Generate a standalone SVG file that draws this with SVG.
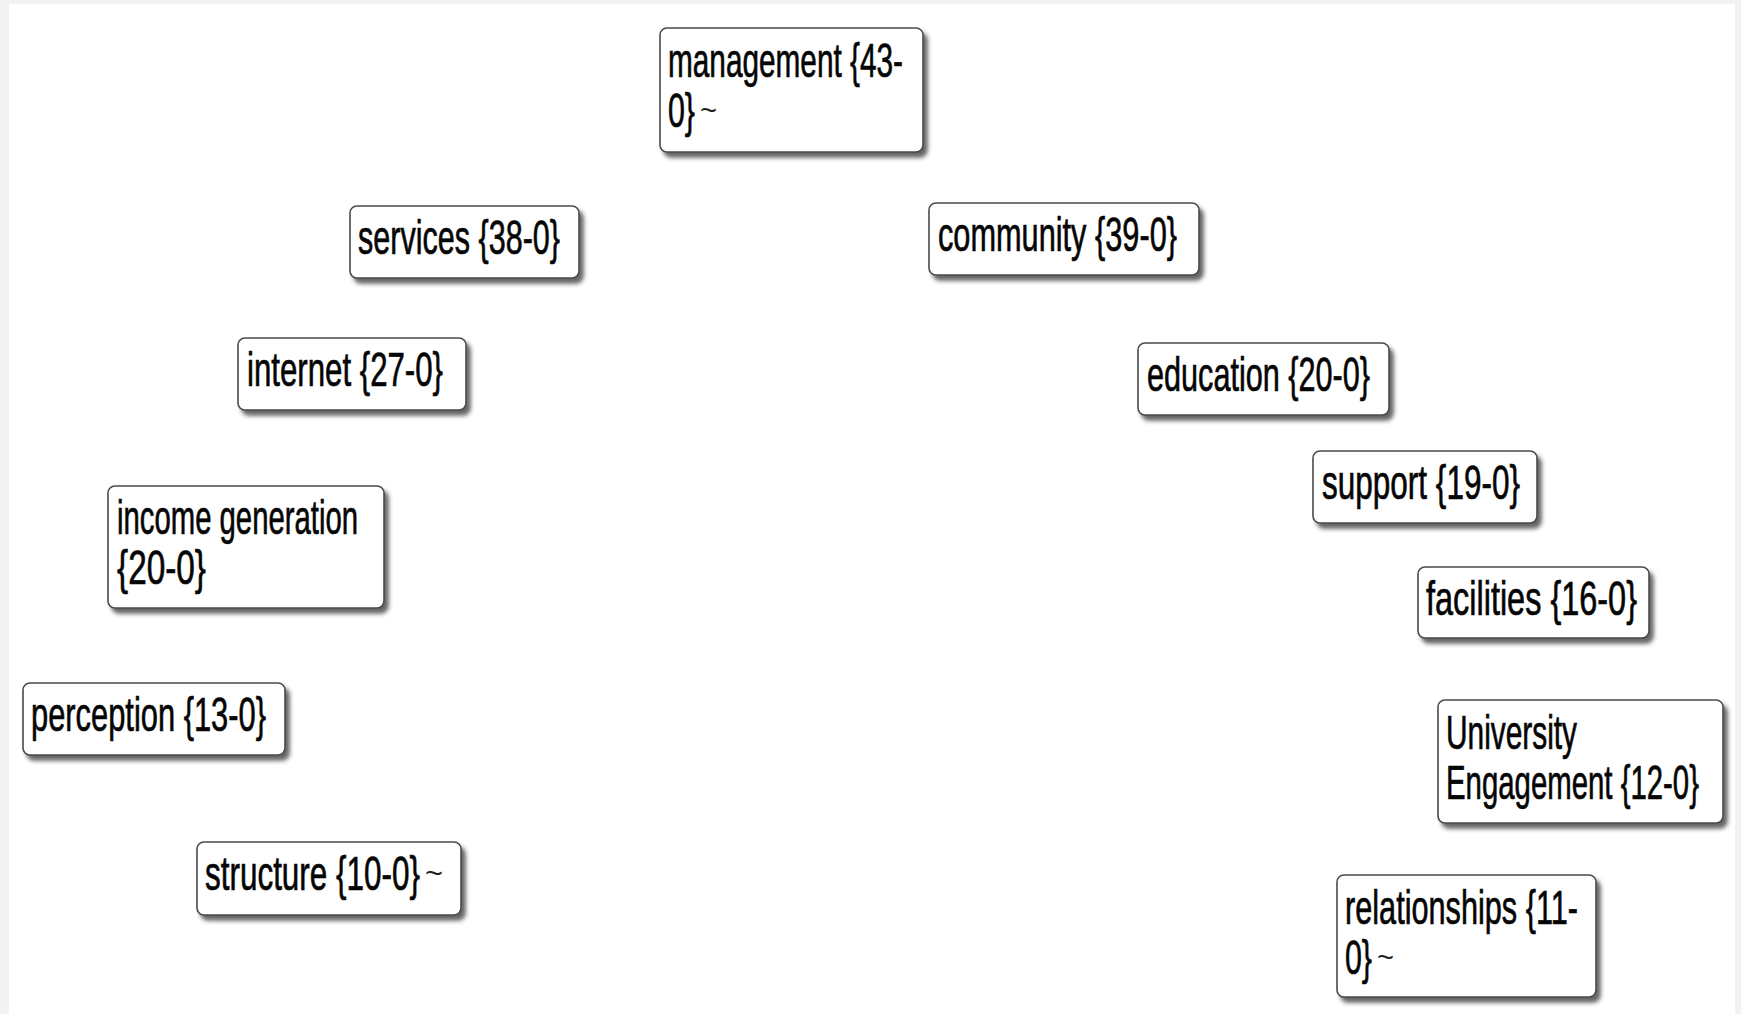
<svg xmlns="http://www.w3.org/2000/svg" width="1741" height="1014" viewBox="0 0 1741 1014">
<defs>
<filter id="sh" x="-10%" y="-20%" width="130%" height="150%">
<feDropShadow dx="4" dy="5" stdDeviation="2.2" flood-color="#333" flood-opacity="0.75"/>
</filter>
</defs>
<style>
.box{fill:#fff;stroke:#4a4a4a;stroke-width:1.6;filter:url(#sh)}
.t{font-family:"Liberation Sans Narrow","Liberation Sans",sans-serif;font-size:48px;fill:#050505;stroke:#050505;stroke-width:0.7}
.c{font-family:"Liberation Sans",sans-serif;font-size:28px;fill:#222;stroke:none}
</style>
<rect width="1741" height="1014" fill="#f2f2f4"/>
<rect x="9" y="4" width="1726" height="1010" fill="#fff"/>
<g id="connectors"/>
<g id="management">
<rect class="box" x="660" y="28" width="263" height="124" rx="7"/>
<text class="t" x="668" y="77" textLength="235" lengthAdjust="spacingAndGlyphs">management {43-</text>
<text class="t" x="668" y="127"><tspan textLength="27" lengthAdjust="spacingAndGlyphs">0}</tspan><tspan class="c" dx="5" dy="-7" textLength="17" lengthAdjust="spacingAndGlyphs">~</tspan></text>
</g>
<g id="services">
<rect class="box" x="350" y="206" width="229" height="72" rx="7"/>
<text class="t" x="358" y="254" textLength="202" lengthAdjust="spacingAndGlyphs">services {38-0}</text>
</g>
<g id="community">
<rect class="box" x="929" y="203" width="270" height="72" rx="7"/>
<text class="t" x="938" y="251" textLength="239" lengthAdjust="spacingAndGlyphs">community {39-0}</text>
</g>
<g id="internet">
<rect class="box" x="238" y="338" width="228" height="72" rx="7"/>
<text class="t" x="247" y="386" textLength="196" lengthAdjust="spacingAndGlyphs">internet {27-0}</text>
</g>
<g id="education">
<rect class="box" x="1138" y="343" width="251" height="72" rx="7"/>
<text class="t" x="1147" y="391" textLength="223" lengthAdjust="spacingAndGlyphs">education {20-0}</text>
</g>
<g id="support">
<rect class="box" x="1313" y="451" width="224" height="72" rx="7"/>
<text class="t" x="1322" y="499" textLength="198" lengthAdjust="spacingAndGlyphs">support {19-0}</text>
</g>
<g id="income-generation">
<rect class="box" x="108" y="486" width="276" height="122" rx="7"/>
<text class="t" x="117" y="534" textLength="241" lengthAdjust="spacingAndGlyphs">income generation</text>
<text class="t" x="117" y="584" textLength="89" lengthAdjust="spacingAndGlyphs">{20-0}</text>
</g>
<g id="facilities">
<rect class="box" x="1418" y="567" width="231" height="71" rx="7"/>
<text class="t" x="1426" y="615" textLength="211" lengthAdjust="spacingAndGlyphs">facilities {16-0}</text>
</g>
<g id="perception">
<rect class="box" x="23" y="683" width="262" height="72" rx="7"/>
<text class="t" x="31" y="731" textLength="235" lengthAdjust="spacingAndGlyphs">perception {13-0}</text>
</g>
<g id="university-engagement">
<rect class="box" x="1438" y="700" width="285" height="123" rx="7"/>
<text class="t" x="1446" y="749" textLength="131" lengthAdjust="spacingAndGlyphs">University</text>
<text class="t" x="1446" y="799" textLength="253" lengthAdjust="spacingAndGlyphs">Engagement {12-0}</text>
</g>
<g id="structure">
<rect class="box" x="197" y="842" width="264" height="73" rx="7"/>
<text class="t" x="205" y="890"><tspan textLength="215" lengthAdjust="spacingAndGlyphs">structure {10-0}</tspan><tspan class="c" dx="5" dy="-7" textLength="18" lengthAdjust="spacingAndGlyphs">~</tspan></text>
</g>
<g id="relationships">
<rect class="box" x="1337" y="875" width="259" height="122" rx="7"/>
<text class="t" x="1345" y="924" textLength="233" lengthAdjust="spacingAndGlyphs">relationships {11-</text>
<text class="t" x="1345" y="974"><tspan textLength="27" lengthAdjust="spacingAndGlyphs">0}</tspan><tspan class="c" dx="5" dy="-7" textLength="17" lengthAdjust="spacingAndGlyphs">~</tspan></text>
</g>
</svg>
